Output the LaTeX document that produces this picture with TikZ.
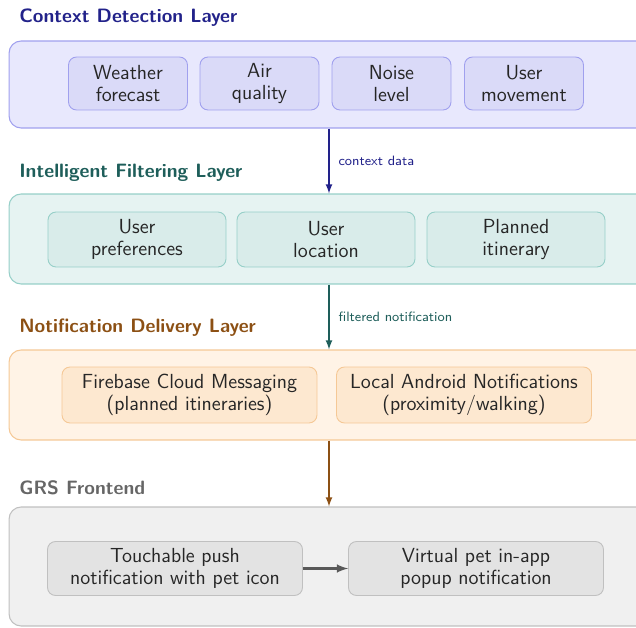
\documentclass[tikz,border=0pt]{standalone}
\usetikzlibrary{arrows}

\definecolor{ctxfill}{HTML}{E8E8FD}
\definecolor{ctxbox}{HTML}{DADAF8}
\definecolor{ctxline}{HTML}{A0A0EE}
\definecolor{ctxtext}{HTML}{22228A}
\definecolor{filfill}{HTML}{E6F3F2}
\definecolor{filbox}{HTML}{D9ECEA}
\definecolor{filline}{HTML}{96CFC8}
\definecolor{filtext}{HTML}{1E5E5A}
\definecolor{delfill}{HTML}{FFF3E6}
\definecolor{delbox}{HTML}{FDE8D0}
\definecolor{delline}{HTML}{F5C896}
\definecolor{deltext}{HTML}{8C5014}
\definecolor{grsfill}{HTML}{F0F0F0}
\definecolor{grsbox}{HTML}{E3E3E3}
\definecolor{grsline}{HTML}{C0C0C0}
\definecolor{grstext}{HTML}{666666}

\begin{document}
\begin{tikzpicture}[x=0.02cm,y=-0.02cm,
		layer/.style={draw,rounded corners=0.24cm,line width=0.6pt,minimum width=12.8cm,inner sep=0pt},
		item/.style={draw,rounded corners=0.16cm,line width=0.5pt,align=center,text=black!85,
			font=\sffamily\fontsize{11.6}{12.8}\selectfont},
		title/.style={anchor=base west,inner sep=0pt,font=\sffamily\bfseries\fontsize{11}{13}\selectfont},
		flow/.style={-latex,thick},
		flowlabel/.style={midway,right,xshift=0.06cm,font=\sffamily\fontsize{7.7}{9}\selectfont}]
	\useasboundingbox (0,0) rectangle (636,628);
	
	% layers
	\node[layer,fill=ctxfill,draw=ctxline,minimum height=1.74cm] (ctx) at (329,84.5) {};
	\node[layer,fill=filfill,draw=filline,minimum height=1.8cm] (fil) at (329,239) {};
	\node[layer,fill=delfill,draw=delline,minimum height=1.8cm] (del) at (329,395) {};
	\node[layer,fill=grsfill,draw=grsline,minimum height=2.38cm] (grs) at (329,566.5) {};
	
	\node[title,text=ctxtext] (ctxtitle) at (19,23) {Context Detection Layer};
	\node[title,text=filtext] (filtitle) at (19,178) {Intelligent Filtering Layer};
	\node[title,text=deltext] (deltitle) at (19,333) {Notification Delivery Layer};
	\node[title,text=grstext] (grstitle) at (19,494) {GRS Frontend};
	
	% context detection
	\node[item,fill=ctxbox,draw=ctxline,minimum width=2.38cm,minimum height=1.06cm] (weather) at (128,83.5) {Weather\\forecast};
	\node[item,fill=ctxbox,draw=ctxline,minimum width=2.38cm,minimum height=1.06cm] (air) at (259.5,83.5) {Air\\quality};
	\node[item,fill=ctxbox,draw=ctxline,minimum width=2.38cm,minimum height=1.06cm] (noise) at (391.5,83.5) {Noise\\level};
	\node[item,fill=ctxbox,draw=ctxline,minimum width=2.38cm,minimum height=1.06cm] (movement) at (524,83.5) {User\\movement};
	
	% intelligent filtering
	\node[item,fill=filbox,draw=filline,minimum width=3.56cm,minimum height=1.1cm] (prefs) at (137,239.5) {User\\preferences};
	\node[item,fill=filbox,draw=filline,minimum width=3.56cm,minimum height=1.1cm] (location) at (326,239.5) {User\\location};
	\node[item,fill=filbox,draw=filline,minimum width=3.56cm,minimum height=1.1cm] (itinerary) at (516,239.5) {Planned\\itinerary};
	
	% notification delivery
	\node[item,fill=delbox,draw=delline,minimum width=5.1cm,minimum height=1.12cm] (fcm) at (189.5,395) {Firebase Cloud Messaging\\(planned itineraries)};
	\node[item,fill=delbox,draw=delline,minimum width=5.1cm,minimum height=1.12cm] (local) at (464,395) {Local Android Notifications\\(proximity/walking)};
	
	% frontend
	\node[item,fill=grsbox,draw=grsline,minimum width=5.1cm,minimum height=1.08cm] (push) at (175,568.5) {Touchable push\\notification with pet icon};
	\node[item,fill=grsbox,draw=grsline,minimum width=5.1cm,minimum height=1.08cm] (popup) at (476,568.5) {Virtual pet in-app\\popup notification};
	
	% flows
	\draw[flow,ctxtext] (ctx.south) -- (fil.north) node[flowlabel] {context data};
	\draw[flow,filtext] (fil.south) -- (del.north) node[flowlabel] {filtered notification};
	\draw[flow,deltext] (del.south) -- (grs.north);
	\draw[flow,line width=1.2pt,black!65] (push.east) -- (popup.west);
\end{tikzpicture}
\end{document}
